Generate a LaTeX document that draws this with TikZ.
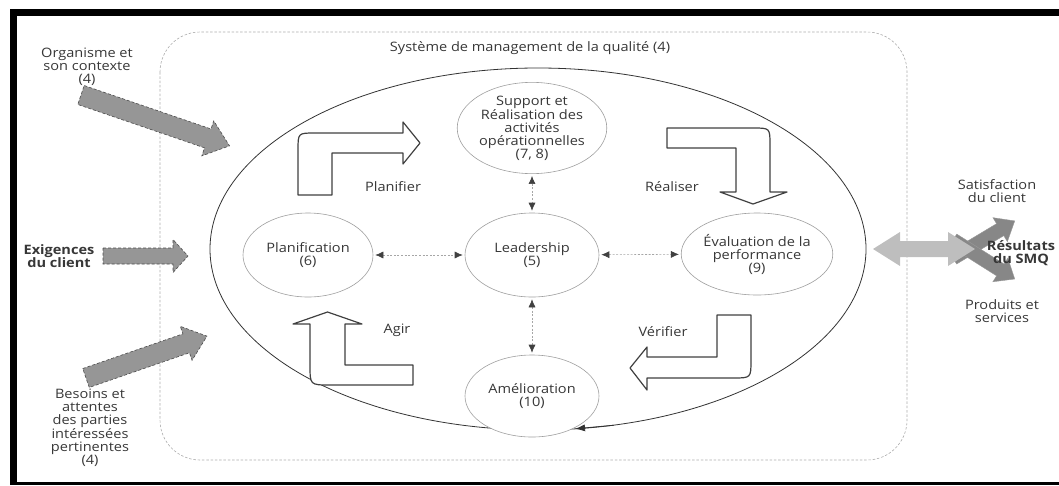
\documentclass[tikz,border=0pt]{standalone}
\usepackage{fontspec}
\setmainfont{Open Sans}[FakeStretch=1.12]
\usepackage{tikz}
\usetikzlibrary{arrows.meta,shapes.geometric}
\definecolor{encre}{RGB}{55,55,55}
\definecolor{grisfleche}{RGB}{150,150,150}
\definecolor{grisclair}{RGB}{190,190,190}

% big block arrow along x: length, half shaft, half head, head length
\newcommand{\grossefleche}[4]{(0,-#2) -- ({#1-#4},-#2) -- ({#1-#4},-#3) -- (#1,0) -- ({#1-#4},#3) -- ({#1-#4},#2) -- (0,#2) -- cycle}
\newcommand{\grossedouble}[4]{(0,0) -- (#4,-#3) -- (#4,-#2) -- ({#1-#4},-#2) -- ({#1-#4},-#3) -- (#1,0) -- ({#1-#4},#3) -- ({#1-#4},#2) -- (#4,#2) -- (#4,#3) -- cycle}

\tikzset{
  etiquette/.style={font=\fontsize{13}{13}\selectfont, text=encre, align=center, inner sep=0pt},
  etape/.style={etiquette, ellipse, draw=gray!75, line width=0.6pt, fill=white},
  liaison/.style={draw=gray!70, dash pattern=on 2pt off 1.6pt, line width=0.6pt,
    {Latex[length=8pt,width=7pt,black!75]}-{Latex[length=8pt,width=7pt,black!75]},
    shorten <=2pt, shorten >=2pt},
  pdca/.style={draw=black!75, line width=1.2pt, fill=white, line join=round},
  entree/.style={fill=grisfleche, draw=black!70, densely dashed, line width=0.6pt},
  sortie/.style={fill=grisfleche!90!black, draw=gray!80, line width=0.4pt},
  cadre/.style={draw=gray!65, dash pattern=on 2.5pt off 1.8pt, line width=0.6pt, rounded corners=40pt},
  boucle/.style={draw=black!80, line width=0.8pt}
}

\begin{document}
\begin{tikzpicture}[x=1pt,y=-1pt]
\useasboundingbox (0,0) rectangle (1059,485);

% black frame
\fill[black] (10,9) rectangle (1059,16);
\fill[black] (10,9) rectangle (17,485);
\fill[black] (10,482) rectangle (1059,485);

% quality management system
\draw[cadre] (160,32) rectangle (907,460);
\node[etiquette] (titre) at (530,48) {Système de management de la qualité (4)};

% PDCA cycle
\draw[boucle] (538,249) ellipse [x radius=328, y radius=181];

\node[etape, minimum width=131pt, minimum height=82pt] (support) at (532,128)
  {Support et\\Réalisation des\\activités\\opérationnelles\\(7, 8)};
\node[etape, minimum width=134pt, minimum height=84pt] (lead) at (532,255) {Leadership\\(5)};
\node[etape, minimum width=130pt, minimum height=84pt] (planif) at (308,255) {Planification\\(6)};
\node[etape, minimum width=138pt, minimum height=82pt] (eval) at (757,254) {Évaluation de la\\performance\\(9)};
\node[etape, minimum width=134pt, minimum height=82pt] (amelio) at (532,396) {Amélioration\\(10)};

\coordinate (depart) at (614,425.2);
\coordinate (arrivee) at (575,428.8);
\draw[boucle, -{Latex[length=10pt,width=7pt]}] (depart) -- (arrivee);

\draw[liaison] (support) -- (lead);
\draw[liaison] (lead) -- (amelio);
\draw[liaison] (planif) -- (lead);
\draw[liaison] (lead) -- (eval);

% Planifier
\draw[pdca] (298,195) -- (298,150) .. controls (298,133) .. (315,133) -- (403,133) -- (403,122)
  -- (420,143) -- (403,164) -- (403,153) -- (332,153) -- (332,195) -- cycle;
% Realiser
\draw[pdca] (667,128) -- (753,128) .. controls (770,128) .. (770,145) -- (770,192) -- (787,192)
  -- (753,204) -- (720,192) -- (736,192) -- (736,148) -- (667,148) -- cycle;
% Verifier
\draw[pdca] (717,315) -- (751,315) -- (751,360) .. controls (751,378) .. (733,378) -- (647,378)
  -- (647,390) -- (630,368) -- (647,347) -- (647,357) -- (717,357) -- cycle;
% Agir
\draw[pdca] (413,365) -- (413,385) -- (330,385) .. controls (310,385) .. (310,365) -- (310,324)
  -- (293,324) -- (327.5,312) -- (362,324) -- (345,324) -- (345,365) -- cycle;

\node[etiquette] (planifier) at (393,187) {Planifier};
\node[etiquette] (realiser) at (672,187) {Réaliser};
\node[etiquette] (verifier) at (663,332) {Vérifier};
\node[etiquette] (agir) at (397,330) {Agir};

% inputs
\node[etiquette] (organisme) at (87,67) {Organisme et\\son contexte\\(4)};
\node[etiquette, font=\fontsize{13}{13}\selectfont\bfseries] (exigences) at (59,256) {Exigences\\du client};
\node[etiquette] (besoins) at (90,428) {Besoins et\\attentes\\des parties\\intéressées\\pertinentes\\(4)};

\draw[entree, shift={(81,95)}, rotate=-18.9] \grossefleche{157}{10}{18.5}{23};
\draw[entree, shift={(103,256)}] \grossefleche{85}{8}{16.5}{15};
\draw[entree, shift={(86,378)}, rotate=19.1] \grossefleche{128}{10}{18}{22};

% outputs
\draw[sortie, shift={(953,258)}, rotate=31] \grossefleche{72}{7}{14}{17};
\draw[sortie, shift={(953,240)}, rotate=-32.3] \grossefleche{73}{7}{14}{17};
\draw[fill=grisclair, draw=none, shift={(873,249)}] \grossedouble{102}{8}{17}{27};

\node[etiquette] (satisfaction) at (997,191) {Satisfaction\\du client};
\node[etiquette, font=\fontsize{13}{13}\selectfont\bfseries] (resultats) at (1021,253) {Résultats\\du SMQ};
\node[etiquette] (produits) at (1002,311) {Produits et\\services};
\end{tikzpicture}
\end{document}
